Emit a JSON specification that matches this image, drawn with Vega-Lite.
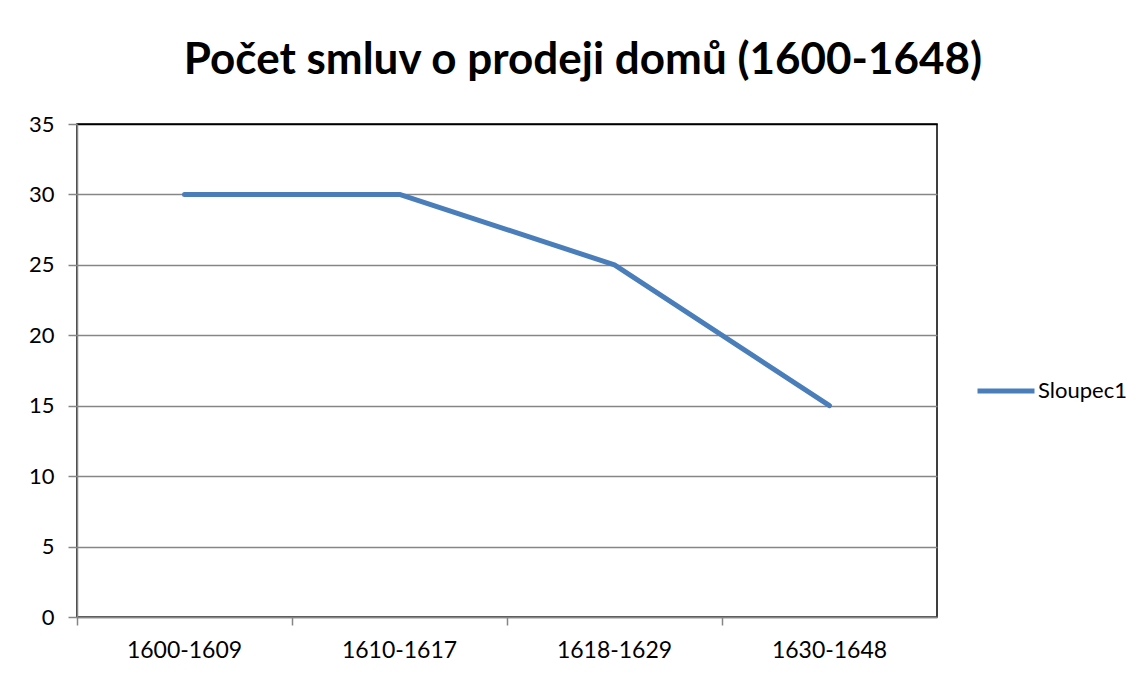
{
  "$schema": "https://vega.github.io/schema/vega-lite/v6.json",
  "autosize": {"type": "none"},
  "padding": {"left": 77, "top": 124, "right": 210, "bottom": 58},
  "width": 860,
  "height": 493,
  "background": "white",
  "config": {
    "font": "Lato",
    "view": {"stroke": "black", "strokeWidth": 1.5}
  },
  "title": {
    "text": "Počet smluv o prodeji domů (1600-1648)",
    "font": "Lato",
    "fontSize": 44,
    "fontWeight": "bold",
    "color": "black",
    "anchor": "middle",
    "frame": "group",
    "dx": 76,
    "baseline": "alphabetic",
    "offset": -5
  },
  "data": {
    "values": [
      {"obdobi": "1600-1609", "pocet": 30, "serie": "Sloupec1"},
      {"obdobi": "1610-1617", "pocet": 30, "serie": "Sloupec1"},
      {"obdobi": "1618-1629", "pocet": 25, "serie": "Sloupec1"},
      {"obdobi": "1630-1648", "pocet": 15, "serie": "Sloupec1"}
    ]
  },
  "mark": {"type": "line", "strokeWidth": 5, "strokeCap": "round", "strokeJoin": "round"},
  "encoding": {
    "x": {
      "field": "obdobi",
      "type": "ordinal",
      "sort": null,
      "scale": {"type": "band", "paddingInner": 0, "paddingOuter": 0},
      "axis": {
        "title": null,
        "labelAngle": 0,
        "labelFont": "Lato",
        "labelFontSize": 23,
        "labelColor": "black",
        "labelPadding": 14,
        "tickSize": 8,
        "tickColor": "#868686",
        "tickWidth": 1.5,
        "bandPosition": 0,
        "domainColor": "#868686",
        "domainWidth": 1.5,
        "grid": false
      }
    },
    "y": {
      "field": "pocet",
      "type": "quantitative",
      "scale": {"domain": [0, 35], "nice": false},
      "axis": {
        "title": null,
        "values": [0, 5, 10, 15, 20, 25, 30, 35],
        "labelFont": "Lato",
        "labelFontSize": 22,
        "labelColor": "black",
        "labelPadding": 14,
        "tickSize": 9,
        "tickColor": "#868686",
        "tickWidth": 1.5,
        "domainColor": "#868686",
        "domainWidth": 1.5,
        "grid": true,
        "gridColor": {"condition": {"test": "datum.value == 35", "value": "black"}, "value": "#868686"},
        "gridWidth": 1.5
      }
    },
    "color": {
      "field": "serie",
      "type": "nominal",
      "scale": {"range": ["#4A7EBB"]},
      "legend": {
        "title": null,
        "orient": "none",
        "legendX": 898,
        "legendY": 236,
        "symbolType": "stroke",
        "symbolSize": 3249,
        "symbolStrokeWidth": 5,
        "labelFont": "Lato",
        "labelFontSize": 22,
        "labelColor": "black",
        "labelOffset": 1
      }
    }
  }
}
